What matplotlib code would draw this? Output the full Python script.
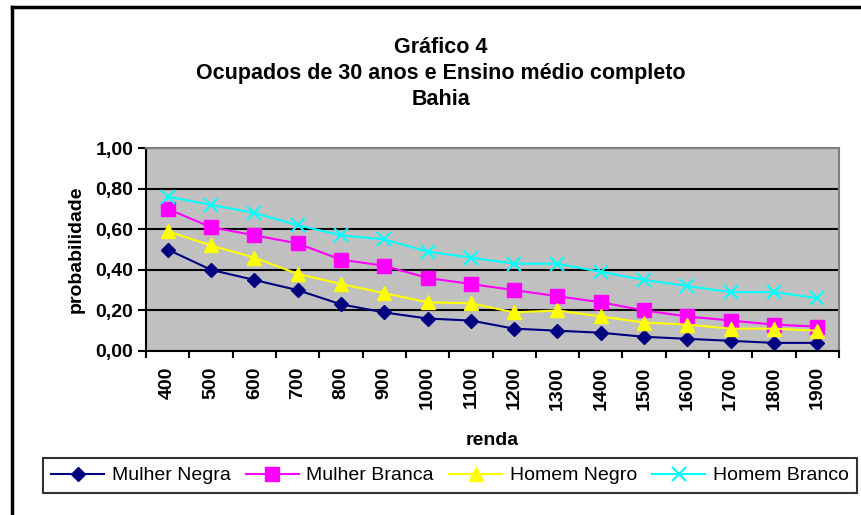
import numpy as np
import matplotlib
matplotlib.use('Agg')
import matplotlib.pyplot as plt
from matplotlib.lines import Line2D

plt.rcParams['font.family'] = ['Liberation Sans', 'DejaVu Sans']

renda = ['400', '500', '600', '700', '800', '900', '1000', '1100', '1200',
         '1300', '1400', '1500', '1600', '1700', '1800', '1900']
mulher_negra = [0.50, 0.40, 0.35, 0.30, 0.23, 0.19, 0.16, 0.15, 0.11,
                0.10, 0.09, 0.07, 0.06, 0.05, 0.04, 0.04]
mulher_branca = [0.70, 0.61, 0.57, 0.53, 0.45, 0.42, 0.36, 0.33, 0.30,
                 0.27, 0.24, 0.20, 0.17, 0.15, 0.13, 0.12]
homem_negro = [0.59, 0.52, 0.46, 0.38, 0.33, 0.285, 0.24, 0.235, 0.19,
               0.20, 0.17, 0.14, 0.13, 0.11, 0.11, 0.10]
homem_branco = [0.76, 0.72, 0.68, 0.62, 0.57, 0.55, 0.49, 0.46, 0.43,
                0.43, 0.39, 0.35, 0.32, 0.29, 0.29, 0.26]

W, H = 861, 515
fs = 14
fig = plt.figure(figsize=(W / 100, H / 100), dpi=100)
fig.patch.set_facecolor('white')

# outer chart border (top and left visible, rest is cut off)
fig.add_artist(Line2D([12 / W, 12 / W], [0, 1 - 7 / H], transform=fig.transFigure,
                      color='black', lw=2.5))
fig.add_artist(Line2D([12 / W, 1], [1 - 7 / H, 1 - 7 / H], transform=fig.transFigure,
                      color='black', lw=2.5))

ax = fig.add_axes([146 / W, 1 - 351 / H, 693 / W, 203 / H])
ax.set_facecolor('#C0C0C0')
x = np.arange(len(renda))

ax.plot(x, mulher_negra, color='#000080', marker='D', ms=7.5, lw=1.5,
        label='Mulher Negra', zorder=3)
ax.plot(x, mulher_branca, color='#FF00FF', marker='s', ms=9.5, lw=1.5,
        label='Mulher Branca', zorder=3)
ax.plot(x, homem_negro, color='#FFFF00', marker='^', ms=10.5, lw=1.5,
        label='Homem Negro', zorder=3)
ax.plot(x, homem_branco, color='#00FFFF', marker='x', ms=10, mew=1.5, lw=1.5,
        label='Homem Branco', zorder=3)

ax.set_xlim(-0.5, len(renda) - 0.5)
ax.set_ylim(0, 1.0)
yt = np.arange(0, 1.01, 0.2)
ax.set_yticks(yt)
ax.set_yticklabels([('%.2f' % v).replace('.', ',') for v in yt],
                   fontweight='bold', fontsize=fs)
for v in yt[1:]:
    ax.axhline(v, color='black', lw=1.5, zorder=1)

ax.set_xticks(np.arange(-0.5, len(renda), 1))
ax.set_xticklabels([])
ax.set_xticks(x, minor=True)
ax.set_xticklabels(renda, minor=True, rotation=90, fontweight='bold', fontsize=fs)
ax.tick_params(axis='x', which='minor', length=0, pad=11)
ax.tick_params(axis='x', which='major', length=5, width=1.5, direction='out')
ax.tick_params(axis='y', length=6, width=1.5, direction='out', pad=3)

for s in ['left', 'bottom']:
    ax.spines[s].set_linewidth(1.5)
    ax.spines[s].set_color('black')
for s in ['top', 'right']:
    ax.spines[s].set_linewidth(1.5)
    ax.spines[s].set_color('#808080')

ax.set_xlabel('renda', fontweight='bold', fontsize=fs, labelpad=16)
ax.set_ylabel('probabilidade', fontweight='bold', fontsize=fs, labelpad=8)

tx = 441 / W
fig.text(tx, 1 - 53 / H, 'Gráfico 4', ha='center', va='baseline',
         fontweight='bold', fontsize=15.5)
fig.text(tx, 1 - 79 / H, 'Ocupados de 30 anos e Ensino médio completo',
         ha='center', va='baseline', fontweight='bold', fontsize=15.5)
fig.text(tx, 1 - 105 / H, 'Bahia', ha='center', va='baseline',
         fontweight='bold', fontsize=15.5)

leg = fig.legend(loc='center', bbox_to_anchor=(450 / W, 1 - 475.5 / H), ncol=4,
                 frameon=True, fancybox=False, fontsize=fs, handlelength=2.7,
                 handletextpad=0.4, columnspacing=0.8, borderpad=0.45,
                 borderaxespad=0)
leg.get_frame().set_edgecolor('black')
leg.get_frame().set_linewidth(1.5)

fig.savefig('out.png', dpi=100)
